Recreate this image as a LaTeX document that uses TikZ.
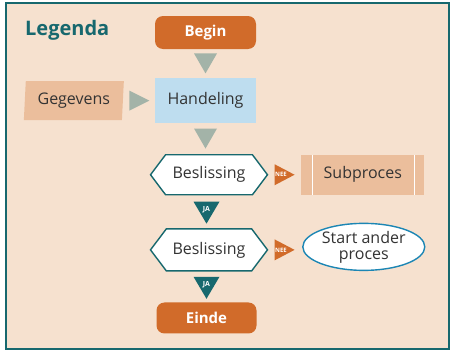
\documentclass[tikz,border=0pt]{standalone}
\usepackage{fontspec}
\setmainfont{Open Sans}
\usetikzlibrary{shapes.geometric, shapes.symbols, positioning}
\definecolor{achtergrond}{HTML}{F6E1CF}
\definecolor{kader}{HTML}{17686E}
\definecolor{oranje}{HTML}{D16B2A}
\definecolor{grijsgroen}{HTML}{A3B3A8}
\definecolor{lichtblauw}{HTML}{BEDDEF}
\definecolor{perzik}{HTML}{EBBE9C}
\definecolor{ovaalrand}{HTML}{1C86B4}
\definecolor{tekst}{HTML}{333333}
\tikzset{
tekstfont/.style={font=\fontsize{16}{17}\selectfont}, % regular label text
terminal/.style={rectangle, rounded corners=8pt, fill=oranje, text=white, minimum width=101pt, minimum height=33pt, font=\fontsize{15}{16}\selectfont\bfseries},
handeling/.style={rectangle, fill=lichtblauw, text=tekst, tekstfont, minimum width=101pt, minimum height=45pt},
gegevens/.style={trapezium, trapezium left angle=85, trapezium right angle=95, trapezium stretches body, fill=perzik, text=tekst, tekstfont, minimum width=100pt, minimum height=39pt},
beslissing/.style={signal, signal to=west and east, signal pointer angle=106, draw=kader, line width=1.4pt, fill=white, text=tekst, tekstfont, minimum width=117pt, minimum height=40pt, inner xsep=0pt},
subproces/.style={rectangle, fill=perzik, text=tekst, tekstfont, minimum width=123pt, minimum height=40pt},
anderproces/.style={ellipse, draw=ovaalrand, line width=1.4pt, fill=white, text=tekst, align=center, minimum width=122pt, minimum height=47pt, inner sep=0pt, font=\fontsize{16}{16}\selectfont},
pijl/.style={isosceles triangle, isosceles triangle stretches, inner sep=0pt, draw=none},
omlaag/.style={pijl, fill=grijsgroen, shape border rotate=-90, minimum width=23pt, minimum height=20pt},
rechts/.style={pijl, fill=grijsgroen, minimum width=20pt, minimum height=20pt},
nee/.style={pijl, fill=oranje, minimum width=21pt, minimum height=20pt},
ja/.style={pijl, fill=kader, shape border rotate=-90, minimum width=26pt, minimum height=22pt},
klein/.style={text=white, font=\fontsize{6}{6}\selectfont\bfseries, inner sep=0pt},
}

\begin{document}
\begin{tikzpicture}[x=1pt, y=-1pt]
    \useasboundingbox (0,0) rectangle (451,351);
    \draw[kader, line width=1.5pt, fill=achtergrond] (6,3) rectangle (449,349);
    \node[anchor=base west, inner sep=0pt, text=kader, font=\fontsize{20}{22}\selectfont\bfseries] (legenda) at (25,35) {Legenda};

    \node[terminal] (begin) at (205.5,32.5) {Begin};
    \node[omlaag, below=4pt of begin] (p1) {};
    \node[handeling, below=4pt of p1] (hand) {Handeling};
    \node[rechts, left=5pt of hand] (p2) {};
    \node[gegevens, left=6pt of p2] (geg) {Gegevens};
    \node[omlaag, below=5pt of hand] (p3) {};
    \node[beslissing, below=5pt of p3, xshift=3.5pt] (besl1) {Beslissing};
    \node[nee, right=6pt of besl1] (nee1) {};
    \node[klein] at (nee1.center) {NEE};
    \node[subproces, right=6pt of nee1] (sub) {Subproces};
    \draw[white, line width=1.2pt] ([xshift=11pt]sub.north west) -- ([xshift=11pt]sub.south west)
        ([xshift=-10pt]sub.north east) -- ([xshift=-10pt]sub.south east);
    \node[ja, below=6pt of besl1, xshift=-2.5pt] (ja1) {};
    \node[klein, font=\fontsize{7}{7}\selectfont\bfseries] at ([yshift=-8pt]ja1.north) {JA};
    \node[beslissing, below=4pt of ja1, xshift=2.5pt, minimum height=42pt] (besl2) {Beslissing};
    \node[nee, right=6pt of besl2] (nee2) {};
    \node[klein] at (nee2.center) {NEE};
    \node[anderproces, right=7pt of nee2, yshift=3pt] (ander) {Start ander\\proces};
    \node[ja, below=5pt of besl2, xshift=-2.5pt] (ja2) {};
    \node[klein, font=\fontsize{7}{7}\selectfont\bfseries] at ([yshift=-8pt]ja2.north) {JA};
    \node[terminal, below=3pt of ja2, minimum width=100pt, minimum height=31pt] (einde) {Einde};
\end{tikzpicture}
\end{document}
